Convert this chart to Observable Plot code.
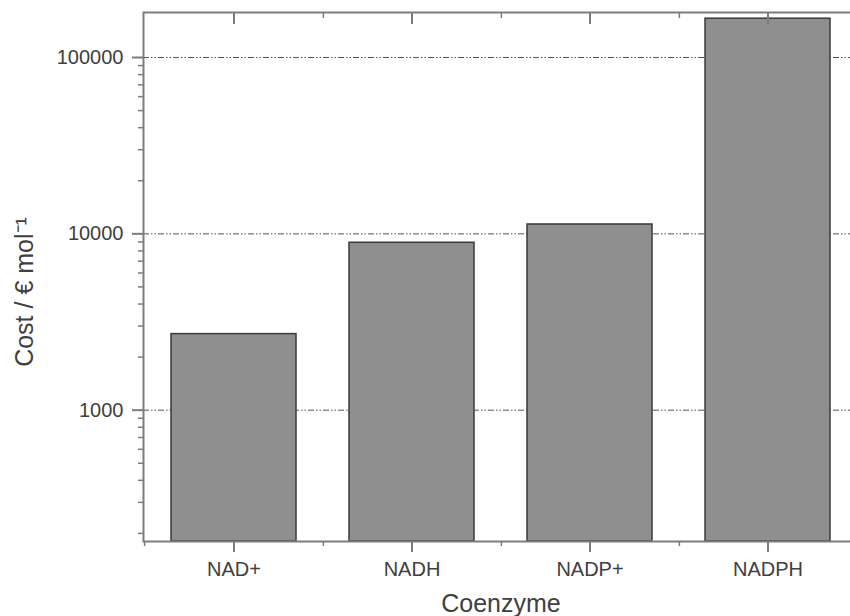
<!DOCTYPE html>
<html>
<head>
<meta charset="utf-8">
<script src="https://cdn.jsdelivr.net/npm/d3@7"></script>
<script src="https://cdn.jsdelivr.net/npm/@observablehq/plot@0.6"></script>
<style>
  html, body { margin: 0; padding: 0; background: white; overflow: hidden; }
</style>
</head>
<body>
<div id="chart"></div>
<script>
const categories = ["NAD+", "NADH", "NADP+", "NADPH"];
const costs = [2700, 8900, 11300, 166000];
const majorTicks = [1000, 10000, 100000];
const minorTicks = [200, 300, 400, 500, 600, 700, 800, 900,
  2000, 3000, 4000, 5000, 6000, 7000, 8000, 9000,
  20000, 30000, 40000, 50000, 60000, 70000, 80000, 90000];
const yDomain = [180, 180000];
const xTitle = "Coenzyme";
const yTitle = "Cost / € mol⁻¹";

const data = categories.map((name, i) => ({name, cost: costs[i]}));

const W = 850, H = 616;
const mL = 143, mR = -8, mT = 12, mB = 75;
const halfStep = (W - mL - mR) / categories.length / 2;
const axisColor = "#7c7c7c";
const textColor = "#404040";
const blank = () => "";

const chart = Plot.plot({
  width: W, height: H,
  marginLeft: mL, marginRight: mR, marginTop: mT, marginBottom: mB,
  style: {fontFamily: "Liberation Sans, Arial, sans-serif", fontSize: "20px", color: textColor, background: "white"},
  x: {domain: categories, paddingInner: 0.3, paddingOuter: 0.15, axis: null, label: null},
  y: {type: "log", domain: yDomain, axis: null, label: null},
  marks: [
    Plot.ruleY(majorTicks, {stroke: "#555", strokeWidth: 1, strokeDasharray: "6,2,1.5,2,1.5,2"}),
    Plot.barY(data, {x: "name", y1: yDomain[0], y2: "cost", fill: "#8f8f8f", stroke: "#3a3a3a", strokeWidth: 1.5}),
    Plot.frame({stroke: axisColor, strokeWidth: 2}),
    Plot.axisY(majorTicks, {tickSize: 11, tickPadding: 9, tickFormat: d3.format("d"), stroke: axisColor, strokeWidth: 2, fill: textColor, label: null}),
    Plot.axisY(minorTicks, {tickSize: 5, tickFormat: blank, stroke: axisColor, strokeWidth: 1.5, label: null}),
    Plot.axisX(categories, {anchor: "bottom", tickSize: 11, tickPadding: 9, stroke: axisColor, strokeWidth: 2, fill: textColor, label: null}),
    Plot.axisX(categories, {anchor: "bottom", tickSize: 5, dx: halfStep, tickFormat: blank, stroke: axisColor, strokeWidth: 1.5, label: null}),
    Plot.axisX([categories[0]], {anchor: "bottom", tickSize: 5, dx: -halfStep, tickFormat: blank, stroke: axisColor, strokeWidth: 1.5, label: null}),
    Plot.axisX(categories, {anchor: "top", tickSize: -11, tickFormat: blank, stroke: axisColor, strokeWidth: 2, label: null}),
    Plot.axisX(categories, {anchor: "top", tickSize: -5, dx: halfStep, tickFormat: blank, stroke: axisColor, strokeWidth: 1.5, label: null}),
    Plot.text([xTitle], {frameAnchor: "bottom", dy: 70, fontSize: 25, fill: textColor}),
    Plot.text([yTitle], {frameAnchor: "left", textAnchor: "middle", dx: -119, dy: 15, rotate: -90, fontSize: 25, fill: textColor})
  ]
});
document.getElementById("chart").appendChild(chart);
</script>
</body>
</html>
